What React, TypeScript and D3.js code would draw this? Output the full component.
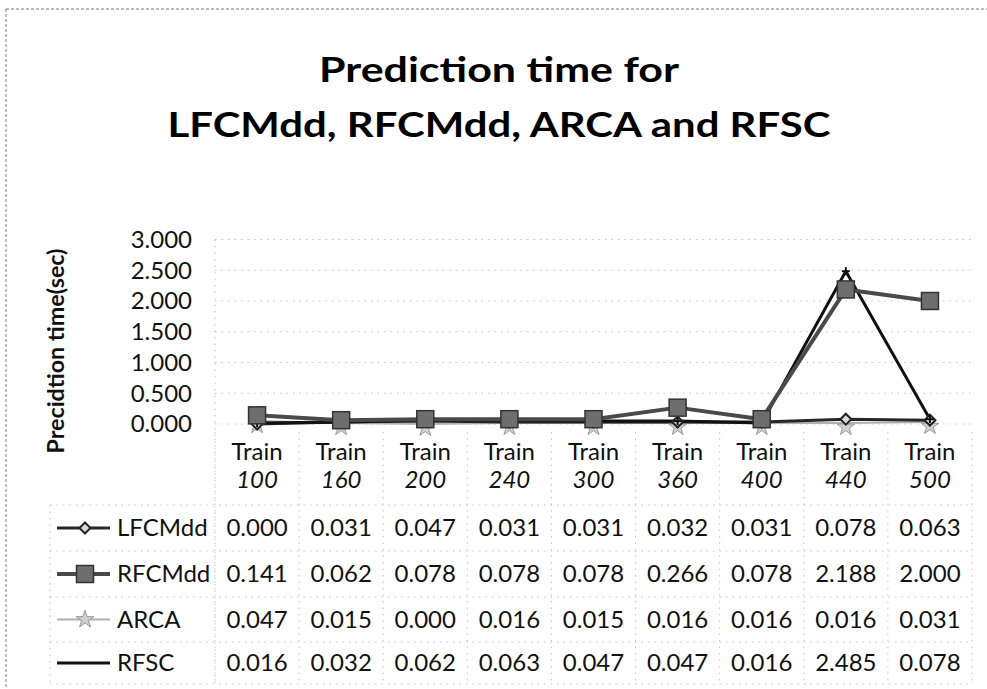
import React from "react";
import * as d3 from "d3";

const categories = ["100", "160", "200", "240", "300", "360", "400", "440", "500"];
const headerPrefix = "Train";
const seriesNames = ["LFCMdd", "RFCMdd", "ARCA", "RFSC"];
const lfcmdd = [0.0, 0.031, 0.047, 0.031, 0.031, 0.032, 0.031, 0.078, 0.063];
const rfcmdd = [0.141, 0.062, 0.078, 0.078, 0.078, 0.266, 0.078, 2.188, 2.0];
const arca = [0.047, 0.015, 0.0, 0.016, 0.015, 0.016, 0.016, 0.016, 0.031];
const rfsc = [0.016, 0.032, 0.062, 0.063, 0.047, 0.047, 0.016, 2.485, 0.078];
const yTicks = [0, 0.5, 1, 1.5, 2, 2.5, 3];
const titleLines = ["Prediction time for", "LFCMdd, RFCMdd, ARCA and RFSC"];
const yTitle = "Precidtion time(sec)";

const W = 987;
const H = 689;
const FONT = "Lato, 'Open Sans', sans-serif";

type Style = { stroke: string; width: number; marker: string; fill: string; mstroke: string; size: number };
const styles: Style[] = [
  { stroke: "#262626", width: 3, marker: "diamond", fill: "#d8d8d8", mstroke: "#222", size: 11 },
  { stroke: "#4a4a4a", width: 4, marker: "square", fill: "#6e6e6e", mstroke: "#333", size: 17 },
  { stroke: "#b0b0b0", width: 2, marker: "star", fill: "#d0d0d0", mstroke: "#999", size: 9 },
  { stroke: "#111", width: 3, marker: "plus", fill: "#111", mstroke: "#111", size: 8 },
];

function Marker({ kind, x, y, s }: { kind: string; x: number; y: number; s: Style }) {
  const h = s.size / 2;
  if (kind === "diamond") {
    return <path d={`M${x},${y - h}L${x + h},${y}L${x},${y + h}L${x - h},${y}Z`} fill={s.fill} stroke={s.mstroke} strokeWidth={2} />;
  }
  if (kind === "square") {
    return <rect x={x - h} y={y - h} width={s.size} height={s.size} fill={s.fill} stroke={s.mstroke} strokeWidth={1.5} />;
  }
  if (kind === "star") {
    const p = d3.symbol().type(d3.symbolStar).size(s.size * s.size * 1.2)();
    return <path d={p || ""} transform={`translate(${x},${y + 4})`} fill={s.fill} stroke={s.mstroke} strokeWidth={1} />;
  }
  return (
    <g stroke={s.mstroke} strokeWidth={2}>
      <line x1={x - h} x2={x + h} y1={y} y2={y} />
      <line x1={x} x2={x} y1={y - h} y2={y + h} />
    </g>
  );
}

export default function App() {
  const x = d3.scaleBand<string>().domain(categories).range([215, 972]);
  const y = d3.scaleLinear().domain([0, 3]).range([424, 239.5]);
  const cx = (c: string) => (x(c) as number) + x.bandwidth() / 2;
  const allSeries = [lfcmdd, rfcmdd, arca, rfsc];
  const line = d3
    .line<number>()
    .x((_, i) => cx(categories[i]))
    .y((d) => y(d));

  const rowLines = [505, 551, 597, 642, 684];
  const rowCenters = rowLines.slice(0, 4).map((v, i) => (v + rowLines[i + 1]) / 2);
  const colEdges = [215, ...categories.map((c) => (x(c) as number) + x.bandwidth())];
  const grid = "#c4c4c4";
  const dash = "1.5,5";

  return (
    <div style={{ position: "absolute", left: 0, top: 0 }}>
      <svg width={W} height={H} style={{ display: "block", background: "#fff" }} fontFamily={FONT}>
        <rect width={W} height={H} fill="#fff" />
        {/* outer dotted border */}
        <line x1={6} x2={W} y1={9} y2={9} stroke="#777" strokeDasharray="3,2" strokeWidth={1} />
        <line x1={6} x2={6} y1={9} y2={H} stroke="#777" strokeDasharray="3,2" strokeWidth={1} />

        {/* title */}
        <text x={499} y={82} textAnchor="middle" fontSize={35} fontWeight={700} fill="#000" textLength={360} lengthAdjust="spacingAndGlyphs">
          {titleLines[0]}
        </text>
        <text x={499} y={137} textAnchor="middle" fontSize={35} fontWeight={700} fill="#000" textLength={663} lengthAdjust="spacingAndGlyphs">
          {titleLines[1]}
        </text>

        {/* horizontal gridlines */}
        {yTicks.map((t) => (
          <line key={t} x1={215} x2={972} y1={y(t)} y2={y(t)} stroke={grid} strokeDasharray={dash} strokeWidth={1} />
        ))}
        {/* left plot border */}
        <line x1={215} x2={215} y1={y(3)} y2={H - 5} stroke={grid} strokeDasharray={dash} />

        {/* y tick labels */}
        {yTicks.map((t) => (
          <text key={t} x={192} y={y(t)} dy="0.35em" textAnchor="end" fontSize={24} fill="#111">
            {d3.format(".3f")(t)}
          </text>
        ))}

        {/* y title */}
        <text
          transform={`translate(64,351) rotate(-90)`}
          textAnchor="middle"
          fontSize={22}
          fontWeight={700}
          fill="#111"
          textLength={205}
          lengthAdjust="spacingAndGlyphs"
        >
          {yTitle}
        </text>

        {/* table grid */}
        {rowLines.map((ry, i) => (
          <line key={"r" + i} x1={50} x2={972} y1={ry} y2={ry} stroke={grid} strokeDasharray={dash} />
        ))}
        <line x1={50} x2={50} y1={505} y2={684} stroke={grid} strokeDasharray={dash} />
        {colEdges.map((ex, i) => (
          <line key={"c" + i} x1={ex} x2={ex} y1={432} y2={684} stroke={grid} strokeDasharray={dash} />
        ))}

        {/* header */}
        {categories.map((c) => (
          <g key={c}>
            <text x={cx(c)} y={452} dy="0.35em" textAnchor="middle" fontSize={24} fill="#111">
              {headerPrefix}
            </text>
            <text x={cx(c)} y={480} dy="0.35em" textAnchor="middle" fontSize={24} fontStyle="italic" fill="#111">
              {c}
            </text>
          </g>
        ))}

        {/* table rows */}
        {allSeries.map((vals, si) => (
          <g key={si}>
            <line x1={57} x2={110} y1={rowCenters[si]} y2={rowCenters[si]} stroke={styles[si].stroke} strokeWidth={styles[si].width} />
            {si !== 3 && <Marker kind={styles[si].marker} x={85} y={rowCenters[si] - (si === 2 ? 4 : 0)} s={styles[si]} />}
            <text x={117} y={rowCenters[si]} dy="0.35em" fontSize={24} fill="#111">
              {seriesNames[si]}
            </text>
            {vals.map((v, i) => (
              <text key={i} x={cx(categories[i])} y={rowCenters[si]} dy="0.35em" textAnchor="middle" fontSize={24} fill="#111">
                {d3.format(".3f")(v)}
              </text>
            ))}
          </g>
        ))}

        {/* series lines */}
        {[2, 0, 3, 1].map((si) => (
          <g key={"s" + si}>
            <path d={line(allSeries[si]) || ""} fill="none" stroke={styles[si].stroke} strokeWidth={styles[si].width} strokeLinejoin="round" />
          </g>
        ))}
        {[2, 0, 3, 1].map((si) => (
          <g key={"m" + si}>
            {allSeries[si].map((v, i) => (
              <Marker key={i} kind={styles[si].marker} x={cx(categories[i])} y={y(v)} s={styles[si]} />
            ))}
          </g>
        ))}
      </svg>
    </div>
  );
}
